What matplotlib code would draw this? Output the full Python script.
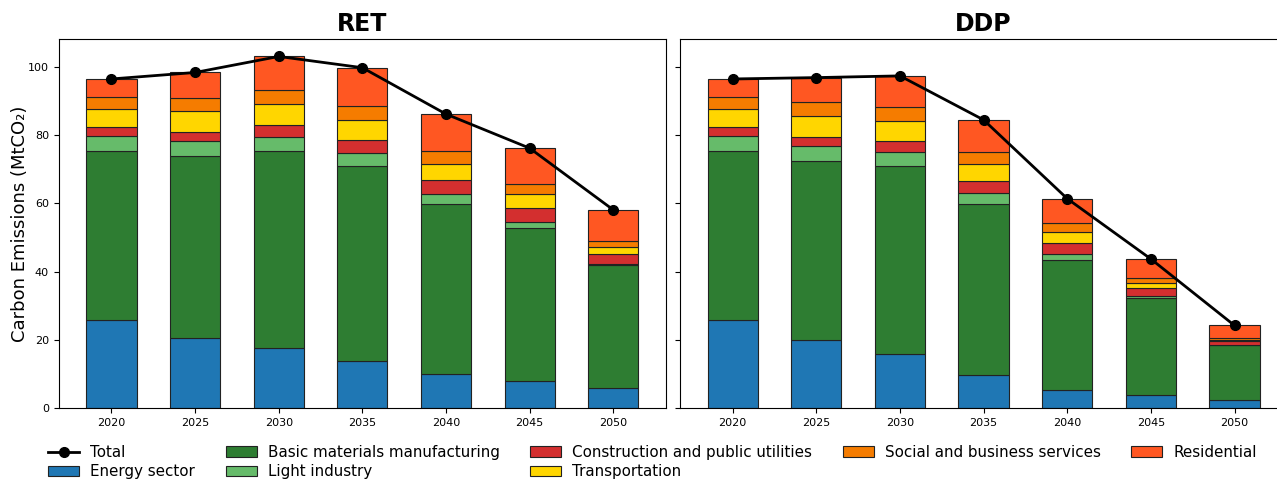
import numpy as np
import matplotlib
matplotlib.use("Agg")
from matplotlib import pyplot as plt

years = [2020, 2025, 2030, 2035, 2040, 2045, 2050]
sectors = ["Energy sector", "Basic materials manufacturing", "Light industry",
           "Construction and public utilities", "Transportation",
           "Social and business services", "Residential"]
colors = ["#1f77b4", "#2e7d32", "#66bb6a", "#d32f2f", "#ffd600", "#f57c00", "#ff5722"]

# RET scenario (MtCO2)
ret_energy = [25.8, 20.4, 17.6, 13.9, 10.0, 7.8, 5.8]
ret_basic = [49.5, 53.4, 57.7, 57.0, 49.8, 44.9, 36.0]
ret_light = [4.6, 4.4, 4.3, 3.8, 2.9, 1.9, 0.4]
ret_constr = [2.4, 2.6, 3.3, 3.9, 4.1, 4.0, 3.1]
ret_transport = [5.4, 6.4, 6.2, 5.9, 4.8, 4.1, 1.8]
ret_social = [3.5, 3.8, 4.2, 4.1, 3.8, 2.9, 1.8]
ret_resid = [5.3, 7.4, 9.8, 11.2, 10.8, 10.6, 9.2]

# DDP scenario (MtCO2)
ddp_energy = [25.8, 19.8, 15.7, 9.8, 5.4, 3.8, 2.3]
ddp_basic = [49.5, 52.6, 55.3, 50.0, 37.9, 28.5, 16.1]
ddp_light = [4.6, 4.4, 4.0, 3.2, 1.8, 0.5, 0.2]
ddp_constr = [2.4, 2.8, 3.2, 3.5, 3.2, 2.3, 1.0]
ddp_transport = [5.4, 6.1, 6.1, 5.1, 3.3, 1.7, 0.4]
ddp_social = [3.5, 3.9, 4.0, 3.6, 2.7, 1.3, 0.6]
ddp_resid = [5.3, 7.3, 9.1, 9.3, 7.1, 5.6, 3.6]

ret = [ret_energy, ret_basic, ret_light, ret_constr, ret_transport, ret_social, ret_resid]
ddp = [ddp_energy, ddp_basic, ddp_light, ddp_constr, ddp_transport, ddp_social, ddp_resid]

fig, axes = plt.subplots(1, 2, figsize=(12.77, 4.8), dpi=100, sharey=True)
fig.subplots_adjust(left=0.046, right=1.008, top=0.919, bottom=0.15, wspace=0.023)

handles = []
for ax, data, title in zip(axes, [ret, ddp], ["RET", "DDP"]):
    bottom = np.zeros(len(years))
    bars = []
    for vals, name, c in zip(data, sectors, colors):
        b = ax.bar(years, vals, width=3, bottom=bottom, color=c, edgecolor="#222222",
                   linewidth=0.8, label=name)
        bars.append(b)
        bottom += np.array(vals)
    line, = ax.plot(years, bottom, color="black", marker="o", markersize=7,
                    linewidth=2, label="Total")
    handles = [line] + bars
    ax.set_title(title, fontsize=17, fontweight="bold")
    ax.set_xticks(years)
    ax.tick_params(labelsize=8)

axes[0].set_ylabel("Carbon Emissions (MtCO₂)", fontsize=13, labelpad=-1)

labels = ["Total"] + sectors
fig.legend(handles, labels, loc="lower left", bbox_to_anchor=(0.027, -0.027), ncol=5,
           frameon=False, fontsize=10.9, handlelength=2.05, handletextpad=0.75,
           columnspacing=2.0, labelspacing=0.28)

plt.savefig("out.png", dpi=100)
